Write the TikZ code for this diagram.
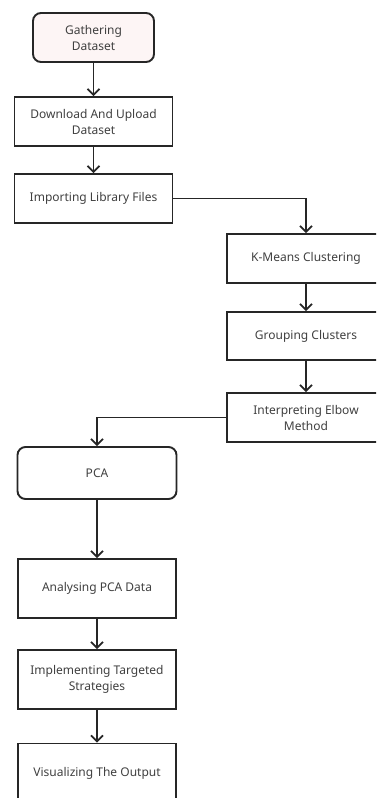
\documentclass[tikz,border=0pt]{standalone}
\usepackage{fontspec}
\setmainfont{Noto Sans}
\usepackage{xcolor}
\usetikzlibrary{arrows.meta}
\definecolor{startpink}{HTML}{FDF5F5}

\begin{document}
\begin{tikzpicture}[x=1pt, y=-1pt,
  box/.style={draw=black!85, line width=1.9pt, minimum width=158pt, minimum height=49pt, align=center, text=black!75, font=\fontsize{12}{16}\selectfont, inner sep=2pt},
  roundbox/.style={box, rounded corners=8pt},
  flow/.style={-{Straight Barb[length=6pt, width=12pt]}, line width=1.7pt, black!85}]
\clip (0,0) rectangle (376,798);
\fill[white] (0,0) rectangle (376,798);
% upper column
\node[roundbox, fill=startpink, minimum width=121pt] (gather) at (93.5,37.5) {Gathering\\Dataset};
\node[box] (download) at (93.5,121.5) {Download And Upload\\Dataset};
\node[box] (import) at (93.5,198.5) {Importing Library Files};
% right column
\node[box] (kmeans) at (306,258.5) {K-Means Clustering};
\node[box, minimum height=48pt] (group) at (306,336) {Grouping Clusters};
\node[box] (elbow) at (306,417.5) {Interpreting Elbow\\Method};
% lower column
\node[roundbox, minimum width=159pt, minimum height=52pt] (pca) at (97,473) {PCA};
\node[box, minimum height=59pt] (analyse) at (97,588.5) {Analysing PCA Data};
\node[box, minimum height=59pt] (implement) at (97,679.5) {Implementing Targeted\\Strategies};
\node[box, minimum height=59pt] (visual) at (97,773) {Visualizing The Output};
% connectors
\draw[flow] (gather) -- (download);
\draw[flow] (download) -- (import);
\draw[flow] (import.east) -| (kmeans.north);
\draw[flow] (kmeans) -- (group);
\draw[flow] (group) -- (elbow);
\draw[flow] (elbow.west) -| (pca.north);
\draw[flow] (pca) -- (analyse);
\draw[flow] (analyse) -- (implement);
\draw[flow] (implement) -- (visual);
\end{tikzpicture}
\end{document}
